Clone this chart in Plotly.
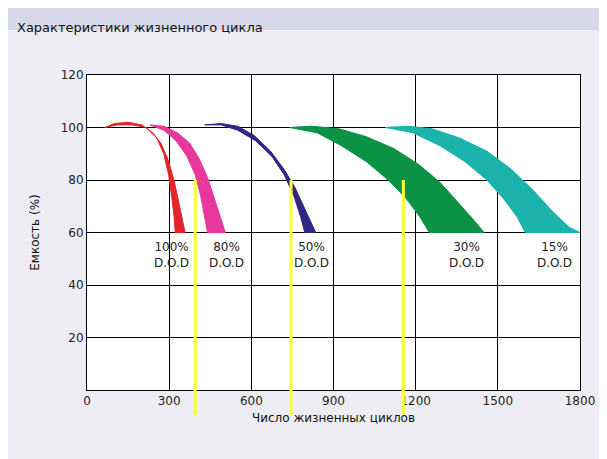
import plotly.graph_objects as go

title = "Характеристики жизненного цикла"
xlabel = "Число жизненных циклов"
ylabel = "Емкость (%)"

red_x = [65,100,150,200,240,270,295,315,330,345,358, 322,318,310,298,280,255,215,165,110,65]
red_y = [100,101.5,102,101,98,94,88,81,74,66,60, 60,66,73,82,90,96,100,101,101,100]
pink_x = [230,280,330,375,410,440,465,485,505, 440,430,415,395,365,325,280,230]
pink_y = [101,100.5,98,94,88,81,73,66,60, 60,66,74,82,89,95,99,101]
purple_x = [430,490,550,610,670,720,760,795,820,835, 795,780,755,720,675,615,550,490,430]
purple_y = [101,101.5,100.5,97,91,84,77,69,63,60, 60,66,74,82,89,95,99,101,101]
green_x = [740,820,920,1020,1120,1210,1290,1360,1410,1450, 1250,1215,1165,1100,1020,930,840,740]
green_y = [100,100.5,99.5,96.5,92,86,79,71,65,60, 60,66,73,80,87,93,98,100]
teal_x = [1090,1170,1260,1360,1460,1550,1630,1700,1760,1800, 1600,1570,1520,1460,1380,1290,1190,1090]
teal_y = [100,100.5,99.5,96,91,84,76,68,62,60, 60,66,73,80,87,93,98,100]
colors = ["#e3242b", "#e6399b", "#2f2784", "#0b9245", "#1cb3ad"]

yellow_x = [395, 745, 1155]
labels = [("100%<br>D.O.D", 310), ("80%<br>D.O.D", 510), ("50%<br>D.O.D", 820),
          ("30%<br>D.O.D", 1387), ("15%<br>D.O.D", 1708)]

fig = go.Figure()
for xs, ys, c in [(red_x, red_y, colors[0]), (pink_x, pink_y, colors[1]),
                  (purple_x, purple_y, colors[2]), (green_x, green_y, colors[3]),
                  (teal_x, teal_y, colors[4])]:
    fig.add_trace(go.Scatter(x=xs, y=ys, fill="toself", fillcolor=c, mode="lines",
                             line=dict(color=c, width=1), hoverinfo="skip"))

for t, x in labels:
    fig.add_annotation(x=x, y=51.5, text=t, showarrow=False, font=dict(size=12, color="#222"),
                       align="center")

for x in yellow_x:
    fig.add_shape(type="line", xref="x", yref="y", x0=x, x1=x, y0=80, y1=0,
                  line=dict(color="#ffff33", width=3))
    fig.add_shape(type="line", xref="x", yref="paper", x0=x, x1=x, y0=0, y1=-0.079,
                  line=dict(color="#ffff33", width=3))

fig.add_shape(type="rect", xref="paper", yref="paper", x0=-0.2, x1=1.1, y0=1.143, y1=1.3,
              fillcolor="#d8d8ec", line=dict(width=0), layer="below")
fig.add_annotation(xref="paper", yref="paper", x=-0.146, y=1.181, text=title, showarrow=False,
                   xanchor="left", font=dict(size=13, color="#111"))

axis = dict(showgrid=True, gridcolor="#000", gridwidth=1, showline=True, linecolor="#000",
            mirror=True, zeroline=False, ticks="", tickfont=dict(size=12, color="#222"))
fig.update_layout(
    width=599, height=451, showlegend=False,
    margin=dict(l=79, r=27, t=67, b=69),
    paper_bgcolor="#ededf3", plot_bgcolor="#ffffff",
    font=dict(family="DejaVu Sans"),
    xaxis=dict(range=[0, 1800], tickvals=list(range(0, 1801, 300)),
               title=dict(text=xlabel, font=dict(size=12, color="#111"), standoff=6), **axis),
    yaxis=dict(range=[0, 120], tickvals=list(range(20, 121, 20)),
               title=dict(text=ylabel, font=dict(size=12, color="#111"), standoff=18), **axis),
)
fig.write_html("out.html")
